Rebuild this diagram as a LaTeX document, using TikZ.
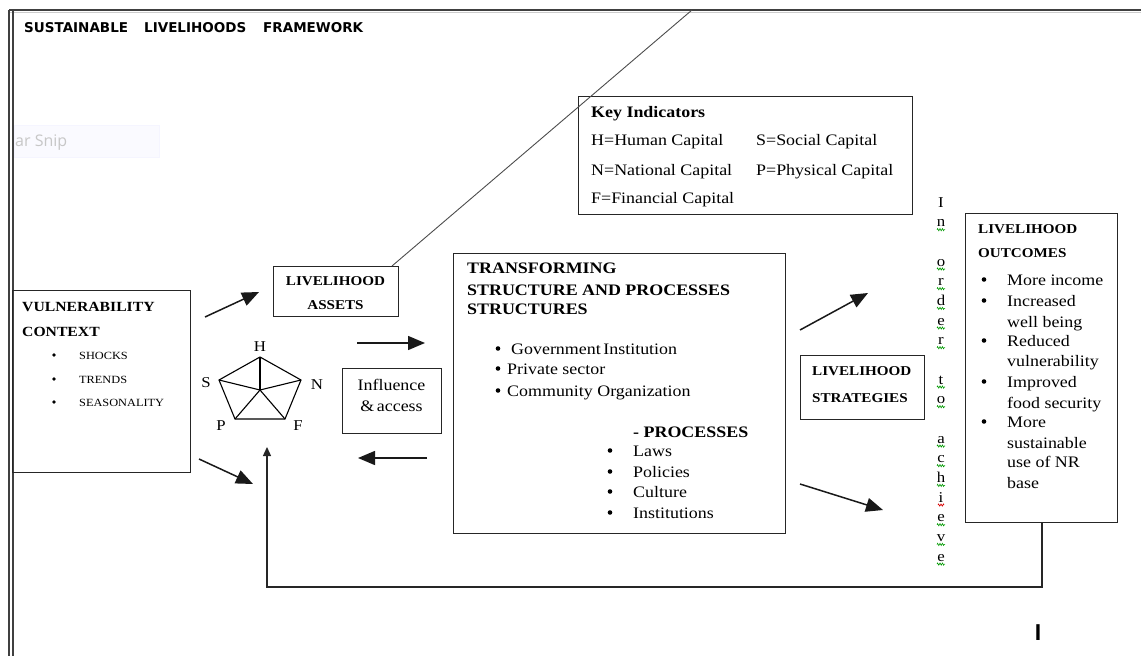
\documentclass[tikz,border=0pt]{standalone}
\usepackage{fontspec}
\setmainfont{Liberation Serif}[FakeStretch=1.12]
\newfontfamily\titlefont{DejaVu Sans}
\newfontfamily\uifont{Open Sans}
\newfontfamily\cursorfont{Liberation Sans}
\usetikzlibrary{arrows.meta,decorations.pathmorphing}

\newcommand\fsz[2]{\fontsize{#1}{#2}\selectfont}

\begin{document}
\begin{tikzpicture}[x=1pt,y=-1pt,
  box/.style={draw=black!85,line width=1.3pt,anchor=north west,inner sep=0pt},
  txt/.style={anchor=base west,inner sep=0pt},
  ctxt/.style={anchor=base,inner sep=0pt},
  hd/.style={txt,font=\bfseries\fsz{13.5}{16}},
  body/.style={txt,font=\fsz{16}{19}},
  small/.style={txt,font=\fsz{11}{13}},
  dot/.style={circle,fill=black,inner sep=0pt,minimum size=4.6pt},
  smalldot/.style={circle,fill=black,inner sep=0pt,minimum size=3.6pt},
  flow/.style={line width=1.5pt,draw=black!90,-{Triangle[length=17pt,width=14pt]}},
  back/.style={line width=1.3pt,draw=black!85,-{Triangle[length=9pt,width=8pt]}},
  squiggle/.style={line width=0.6pt,decorate,decoration={zigzag,segment length=2.4pt,amplitude=1.1pt}},
]
\useasboundingbox (0,0) rectangle (1141,656);

% window frame
\draw[line width=2pt,black!75] (9,10) -- (1141,10);
\draw[line width=1pt,black!20] (9,12.2) -- (1141,12.2);
\draw[line width=1.4pt,black!75] (9,10) -- (9,656);
\draw[line width=1.4pt,black!75] (12.8,10) -- (12.8,656);

% faded tooltip
\filldraw[fill=blue!2!white,draw=blue!4!white] (14,125) rectangle (159,157);
\node[txt,text=black!22] (snip) at (15,146) {\uifont\fsz{16}{19}ar Snip};

% title
\node[txt] (t1) at (24,32) {\titlefont\bfseries\fsz{13.5}{16}SUSTAINABLE};
\node[txt] (t2) at (144,32) {\titlefont\bfseries\fsz{13.5}{16}LIVELIHOODS};
\node[txt] (t3) at (263,32) {\titlefont\bfseries\fsz{13.5}{16}FRAMEWORK};

% boxes
\node[box,minimum width=178,minimum height=182] (vuln) at (12,290) {};
\node[box,minimum width=125,minimum height=50] (assets) at (273,266) {};
\node[box,minimum width=99,minimum height=65] (influ) at (342,368) {};
\node[box,minimum width=332,minimum height=280] (trans) at (453,253) {};
\node[box,minimum width=334,minimum height=118] (key) at (578,96) {};
\node[box,minimum width=124,minimum height=64] (strat) at (800,355) {};
\node[box,minimum width=152,minimum height=309] (outc) at (965,213) {};

% vulnerability context
\node[hd,font=\bfseries\fsz{14}{16}] at (22,311) {VULNERABILITY};
\node[hd,font=\bfseries\fsz{14}{16}] at (22,336) {CONTEXT};
\foreach \w/\yy in {SHOCKS/359,TRENDS/383,SEASONALITY/406}{
  \node[smalldot] at (54,\yy-4) {};
  \node[small] at (79,\yy) {\w};
}

% livelihood assets
\node[ctxt,font=\bfseries\fsz{13.5}{16}] at (335.5,285) {LIVELIHOOD};
\node[ctxt,font=\bfseries\fsz{13.5}{16}] at (335.5,309) {ASSETS};
\draw[line width=0.9pt,black!70] (392,266) -- (692,10);

% asset pentagon
\coordinate (pc) at (260,390);
\coordinate (pH) at (260,357);
\coordinate (pN) at (301,380);
\coordinate (pF) at (285,419);
\coordinate (pP) at (235,419);
\coordinate (pS) at (219,380);
\draw[line width=1.1pt] (pH) -- (pN) -- (pF) -- (pP) -- (pS) -- cycle;
\foreach \v in {pH,pN,pF,pP,pS} \draw[line width=1.1pt] (pc) -- (\v);
\foreach \l/\xx/\yy in {H/260/351,S/206/387,N/317/389,P/221/430,F/298/430}
  \node[ctxt,font=\fsz{15}{17}] at (\xx,\yy) {\l};

% influence & access
\node[ctxt,font=\fsz{16}{19}] at (391.5,390) {Influence};
\node[ctxt,font=\fsz{16}{19}] at (391.5,411) {\&\,access};

% transforming structures and processes
\node[txt,font=\bfseries\fsz{16}{19}] at (467,273) {TRANSFORMING};
\node[txt,font=\bfseries\fsz{16}{19}] at (467,295) {STRUCTURE AND PROCESSES};
\node[txt,font=\bfseries\fsz{16}{19}] at (467,314) {STRUCTURES};
\foreach \yy in {354,374,396} \node[dot] at (498,\yy-5.5) {};
\node[body] at (511,354) {Government\,Institution};
\node[body] at (507,374) {Private sector};
\node[body] at (507,396) {Community Organization};
\node[txt,font=\bfseries\fsz{16}{19}] at (633,437) {- PROCESSES};
\foreach \w/\yy in {Laws/456,Policies/477,Culture/497,Institutions/518}{
  \node[dot] at (610,\yy-5.5) {};
  \node[body] at (633,\yy) {\w};
}

% key indicators
\node[txt,font=\bfseries\fsz{16}{19}] at (591,117) {Key Indicators};
\node[body] at (591,145) {H=Human Capital};
\node[body] at (756,145) {S=Social Capital};
\node[body] at (591,175) {N=National Capital};
\node[body] at (756,175) {P=Physical Capital};
\node[body] at (591,203) {F=Financial Capital};

% livelihood strategies
\node[hd] at (812,375) {LIVELIHOOD};
\node[hd] at (812,402) {STRATEGIES};

% in order to achieve (one letter per line)
\foreach \ch/\k in {I/0,n/1,o/3,r/4,d/5,e/6,r/7,t/9,o/10,a/12,c/13,h/14,i/15,e/16,v/17,e/18}{
  \pgfmathsetmacro\yy{207+19.67*\k}
  \node[ctxt,font=\fsz{15}{17}] at (941,\yy) {\ch};
}
\foreach \k in {1,3,4,5,6,7,9,10,12,13,14,16,17,18}{
  \pgfmathsetmacro\yy{207+19.67*\k+3}
  \draw[squiggle,green!60!black] (937,\yy) -- (945,\yy);
}
\pgfmathsetmacro\yi{207+19.67*15+3}
\draw[squiggle,red!85!black] (938,\yi) -- (944,\yi);

% livelihood outcomes
\node[hd] at (978,233) {LIVELIHOOD};
\node[hd] at (978,257) {OUTCOMES};
\foreach \yy in {285,306,346,387,427}
  \node[dot] at (984,\yy-5.5) {};
\foreach \w/\yy in {More income/285,Increased/306,well being/327,Reduced/346,vulnerability/366,Improved/387,food security/408,More/427,sustainable/448,use of NR/467,base/488}
  \node[body] at (1007,\yy) {\w};

% flow arrows
\coordinate (a1s) at (205,317);  \coordinate (a1e) at (259,292);
\coordinate (a2s) at (199,459);  \coordinate (a2e) at (253,484);
\coordinate (a3s) at (357,343);  \coordinate (a3e) at (425,343);
\coordinate (a4s) at (427,458);  \coordinate (a4e) at (358,458);
\coordinate (a5s) at (800,330);  \coordinate (a5e) at (868,293);
\coordinate (a6s) at (800,484);  \coordinate (a6e) at (883,510);
\draw[flow] (a1s) -- (a1e);
\draw[flow] (a2s) -- (a2e);
\draw[flow] (a3s) -- (a3e);
\draw[flow] (a4s) -- (a4e);
\draw[flow] (a5s) -- (a5e);
\draw[flow] (a6s) -- (a6e);

% feedback from outcomes back to assets
\coordinate (fbturn) at (1042,587);
\coordinate (fbend) at (267,447);
\draw[back] (outc.south -| fbturn) -- (fbturn) -| (fbend);

% text cursor
\node[ctxt,font=\cursorfont\bfseries\fsz{23}{26}] (cursor) at (1038,640) {I};
\end{tikzpicture}
\end{document}
